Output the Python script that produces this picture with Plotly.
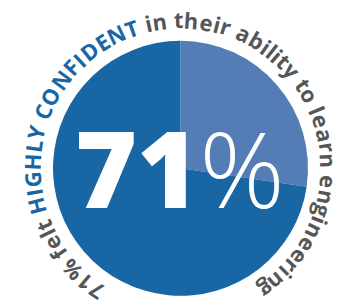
import math
import plotly.graph_objects as go

# ---- data ----
slice_labels = ["Not highly confident", "Highly confident"]
slice_values = [27.3, 72.7]          # shares as drawn in the picture
slice_colors = ["#557db5", "#1866a3"]
big_number = "71"
big_suffix = "%"
ring_segments = [("71% felt ", "#555658"),
                 ("HIGHLY CONFIDENT", "#1866a3"),
                 (" in their ability to learn engineering", "#555658")]

# ---- layout geometry (page pixels; the page body has an 8px margin) ----
OFF = 8
W, H = 344 - OFF, 301 - OFF
cx, cy, R = 180.5 - OFF, 168.3 - OFF, 127.5
ring_r = 149.0
ring_start, ring_end = -145.4, 145.0
ring_font = 22

# approximate Open Sans Bold advance widths (em)
adv = {' ': .26, '%': .855, '7': .572, '1': .572, 'a': .59, 'b': .62, 'e': .586,
       'f': .38, 'g': .548, 'h': .635, 'i': .295, 'l': .295, 'n': .635, 'o': .604,
       'r': .436, 't': .405, 'y': .545, 'C': .635, 'D': .725, 'E': .549, 'F': .525,
       'G': .711, 'H': .744, 'I': .359, 'L': .534, 'N': .786, 'O': .785, 'T': .563,
       'Y': .575}

fig = go.Figure(go.Pie(
    labels=slice_labels, values=slice_values, sort=False, direction="clockwise",
    rotation=0, marker=dict(colors=slice_colors, line=dict(width=0)),
    textinfo="none", hoverinfo="skip", showlegend=False,
    domain=dict(x=[(cx - R) / W, (cx + R) / W], y=[(H - cy - R) / H, (H - cy + R) / H]),
))

chars = []
for seg, col in ring_segments:
    for ch in seg:
        chars.append((ch, col))
centers = []
s = 0.0
for ch, col in chars:
    w = adv.get(ch, .55)
    centers.append(s + w / 2)
    s += w
span0, span1 = centers[0], centers[-1]
anns = []
for (ch, col), c in zip(chars, centers):
    if ch == ' ':
        continue
    th = ring_start + (c - span0) / (span1 - span0) * (ring_end - ring_start)
    t = math.radians(th)
    px = cx + ring_r * math.sin(t)
    py = cy - ring_r * math.cos(t)
    anns.append(dict(x=px / W, y=1 - py / H, xref="paper", yref="paper", text=ch,
                     showarrow=False, xanchor="center", yanchor="middle", textangle=th,
                     borderpad=0,
                     font=dict(family="Open Sans", size=ring_font, color=col, weight=700)))

anns.append(dict(x=cx / W, y=1 - (cy - 1) / H, xref="paper", yref="paper",
                 text=f"<span style='font-weight:800'>{big_number}</span>"
                      f"<span style='font-weight:300'>{big_suffix}</span>",
                 showarrow=False, xanchor="center", yanchor="middle",
                 font=dict(family="Open Sans", size=106, color="white")))

fig.update_layout(width=W, height=H, margin=dict(l=0, r=0, t=0, b=0),
                  paper_bgcolor="white", plot_bgcolor="white", annotations=anns)
fig.write_html("out.html")
